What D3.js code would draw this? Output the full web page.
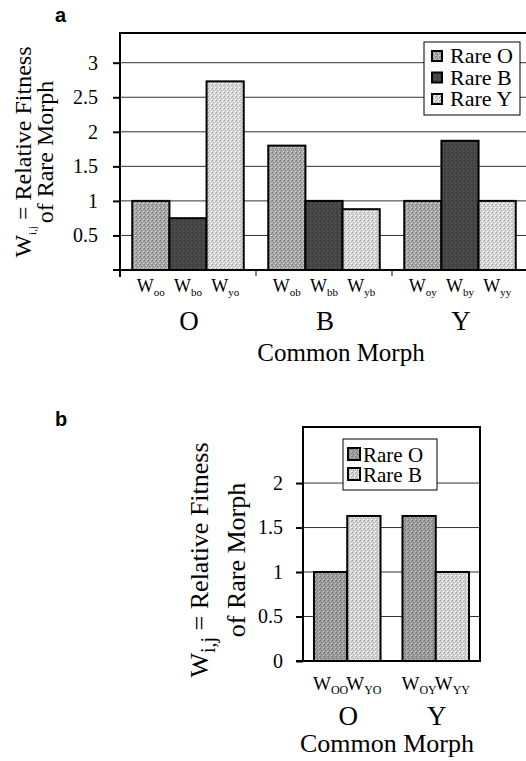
<!DOCTYPE html>
<html>
<head>
<meta charset="utf-8">
<script src="https://cdn.jsdelivr.net/npm/d3@7"></script>
<style>
  body { margin: 0; background: #fff; }
  text { font-family: "Liberation Serif", "Times New Roman", serif; fill: #000; }
  .panel-label { font-family: "Liberation Sans", Arial, sans-serif; font-weight: bold; }
</style>
</head>
<body>
<svg></svg>
<script>
// ---- data, panel a ----
let groupsA = ['O', 'B', 'Y'];
let seriesA = ['Rare O', 'Rare B', 'Rare Y'];
let rareO_A = [1.0, 1.8, 1.0];
let rareB_A = [0.75, 1.0, 1.87];
let rareY_A = [2.73, 0.88, 1.0];
let subsA = [['oo', 'bo', 'yo'], ['ob', 'bb', 'yb'], ['oy', 'by', 'yy']];
let ticksA = [0.5, 1, 1.5, 2, 2.5, 3];

// ---- data, panel b ----
let groupsB = ['O', 'Y'];
let seriesB = ['Rare O', 'Rare B'];
let rareO_B = [1.0, 1.63];
let rareB_B = [1.63, 1.0];
let subsB = [['OO', 'YO'], ['OY', 'YY']];
let ticksB = [0, 0.5, 1, 1.5, 2];

let svg = d3.select('svg').attr('width', 526).attr('height', 761);
let defs = svg.append('defs');

// stippled grey fills
function stipple(id, base) {
  let p = defs.append('pattern').attr('id', id)
    .attr('width', 4).attr('height', 4).attr('patternUnits', 'userSpaceOnUse');
  p.append('rect').attr('width', 4).attr('height', 4).attr('fill', base);
  let dk = d3.color(base).darker(0.7).formatHex();
  let lt = d3.color(base).brighter(0.7).formatHex();
  [[0, 0, dk], [2, 1, lt], [1, 2, dk], [3, 3, lt], [3, 1, dk]].forEach(function(d) {
    p.append('rect').attr('x', d[0]).attr('y', d[1]).attr('width', 1).attr('height', 1).attr('fill', d[2]);
  });
  return 'url(#' + id + ')';
}

let fillA = [stipple('pa0', '#a6a6a6'), stipple('pa1', '#464646'), stipple('pa2', '#d8d8d8')];
let fillB = [stipple('pb0', '#9a9a9a'), stipple('pb1', '#d4d4d4')];

function drawPanel(cfg) {
  let g = svg.append('g');

  let x = d3.scaleBand().domain(cfg.groups).range([cfg.left, cfg.right]);
  let xs = d3.scaleBand().domain(d3.range(cfg.series.length))
    .range([0, x.bandwidth()]).paddingOuter(0.33);
  let y = d3.scaleLinear().domain([0, cfg.ymax]).range([cfg.bottom, cfg.top]);

  // gridlines
  g.selectAll('line.grid').data(cfg.ticks.filter(d => d > 0)).enter().append('line')
    .attr('class', 'grid')
    .attr('x1', cfg.left).attr('x2', cfg.right)
    .attr('y1', d => y(d)).attr('y2', d => y(d))
    .attr('stroke', '#333').attr('stroke-width', 1);

  // bars
  let rows = [];
  cfg.groups.forEach(function(grp, gi) {
    cfg.values.forEach(function(vals, si) {
      rows.push({ group: grp, s: si, value: vals[gi], sub: cfg.subs[gi][si] });
    });
  });

  g.selectAll('rect.bar').data(rows).enter().append('rect')
    .attr('class', 'bar')
    .attr('x', d => x(d.group) + xs(d.s))
    .attr('y', d => y(d.value))
    .attr('width', xs.bandwidth())
    .attr('height', d => y(0) - y(d.value))
    .attr('fill', d => cfg.fills[d.s])
    .attr('stroke', '#000').attr('stroke-width', 2);

  // frame
  g.append('rect')
    .attr('x', cfg.left).attr('y', cfg.top)
    .attr('width', cfg.right - cfg.left).attr('height', cfg.bottom - cfg.top)
    .attr('fill', 'none').attr('stroke', '#000').attr('stroke-width', 2);

  // y axis
  let axis = d3.axisLeft(y).tickValues(cfg.ticks).tickSize(7)
    .tickPadding(cfg.tickPad).tickFormat(d3.format(''));
  let gy = g.append('g').attr('transform', 'translate(' + cfg.left + ',0)').call(axis);
  gy.select('.domain').remove();
  gy.selectAll('.tick line').attr('stroke', '#000').attr('stroke-width', 2);
  gy.selectAll('.tick text').attr('font-size', 20)
    .style('font-family', '"Liberation Serif", serif');

  // x axis base line, extended left
  g.append('line')
    .attr('x1', cfg.left - 7).attr('x2', cfg.right)
    .attr('y1', cfg.bottom).attr('y2', cfg.bottom)
    .attr('stroke', '#000').attr('stroke-width', 2);

  if (cfg.catTicks) {
    g.append('line')
      .attr('x1', cfg.left).attr('x2', cfg.left)
      .attr('y1', cfg.bottom).attr('y2', cfg.bottom + 7)
      .attr('stroke', '#000').attr('stroke-width', 2);
    g.selectAll('line.cat').data(cfg.groups.slice(1)).enter().append('line')
      .attr('x1', d => x(d)).attr('x2', d => x(d))
      .attr('y1', cfg.bottom).attr('y2', cfg.bottom + 6)
      .attr('stroke', '#000').attr('stroke-width', 1);
  }

  // W subscript labels
  let lab = g.selectAll('text.sub').data(rows).enter().append('text')
    .attr('class', 'sub')
    .attr('x', d => x(d.group) + xs(d.s) + xs.bandwidth() / 2)
    .attr('y', cfg.subY)
    .attr('text-anchor', 'middle')
    .attr('font-size', cfg.wSize);
  lab.append('tspan').text('W');
  lab.append('tspan').attr('font-size', cfg.subSize).attr('dy', 4).text(d => d.sub);

  // group labels
  g.selectAll('text.grp').data(cfg.groups).enter().append('text')
    .attr('x', d => x(d) + x.bandwidth() / 2 + 1)
    .attr('y', cfg.grpY)
    .attr('text-anchor', 'middle')
    .attr('font-size', 27)
    .text(d => d);

  g.append('text')
    .attr('x', cfg.titleX).attr('y', cfg.titleY)
    .attr('text-anchor', 'middle').attr('font-size', cfg.titleSize)
    .text('Common Morph');

  // y title (two lines)
  let t1 = g.append('text')
    .attr('transform', 'translate(' + cfg.yt1 + ',' + cfg.ytY + ') rotate(-90)')
    .attr('text-anchor', 'middle').attr('font-size', cfg.ytSize);
  t1.append('tspan').text('W');
  t1.append('tspan').attr('font-size', cfg.ytSubSize).attr('dy', cfg.ytSubDy).text(cfg.ytSub);
  t1.append('tspan').attr('dy', -cfg.ytSubDy).text(' = Relative Fitness');

  g.append('text')
    .attr('transform', 'translate(' + cfg.yt2 + ',' + cfg.ytY + ') rotate(-90)')
    .attr('text-anchor', 'middle').attr('font-size', cfg.ytSize)
    .text('of Rare Morph');

  // legend
  let L = cfg.legend;
  g.append('rect')
    .attr('x', L.x).attr('y', L.y).attr('width', L.w).attr('height', L.h)
    .attr('fill', '#fff').attr('stroke', '#000').attr('stroke-width', 1);
  cfg.series.forEach(function(s, i) {
    let by = L.y + L.first + i * L.step;
    g.append('rect')
      .attr('x', L.x + L.sx).attr('y', by - L.sw - 2)
      .attr('width', L.sw).attr('height', L.sw)
      .attr('fill', cfg.fills[i]).attr('stroke', '#000').attr('stroke-width', 2);
    g.append('text')
      .attr('x', L.x + L.tx).attr('y', by)
      .attr('font-size', L.fs).text(s);
  });

  // panel letter
  g.append('text').attr('class', 'panel-label')
    .attr('x', cfg.letterX).attr('y', cfg.letterY)
    .attr('font-size', 20).text(cfg.letter);
}

drawPanel({
  groups: groupsA, series: seriesA, values: [rareO_A, rareB_A, rareY_A],
  subs: subsA, ticks: ticksA, fills: fillA,
  left: 120, right: 528, top: 33, bottom: 270, ymax: 3.43,
  tickPad: 15, catTicks: true,
  subY: 292, wSize: 18, subSize: 11,
  grpY: 330, titleX: 341, titleY: 361, titleSize: 25,
  yt1: 31, yt2: 53, ytY: 152, ytSize: 24, ytSubSize: 11, ytSub: 'i,j', ytSubDy: 5,
  legend: { x: 424, y: 42, w: 96, h: 73, first: 21, step: 21.5, sx: 8, sw: 10, tx: 26, fs: 22 },
  letter: 'a', letterX: 55, letterY: 22
});

drawPanel({
  groups: groupsB, series: seriesB, values: [rareO_B, rareB_B],
  subs: subsB, ticks: ticksB, fills: fillB,
  left: 303, right: 480, top: 427, bottom: 661, ymax: 2.63,
  tickPad: 13, catTicks: false,
  subY: 690, wSize: 19, subSize: 12,
  grpY: 725, titleX: 387, titleY: 752, titleSize: 26,
  yt1: 208, yt2: 245, ytY: 560, ytSize: 26, ytSubSize: 20, ytSub: 'i,j', ytSubDy: 7,
  legend: { x: 343, y: 439, w: 94, h: 51, first: 23, step: 20, sx: 5, sw: 12, tx: 20, fs: 21 },
  letter: 'b', letterX: 55, letterY: 426
});
</script>
</body>
</html>
